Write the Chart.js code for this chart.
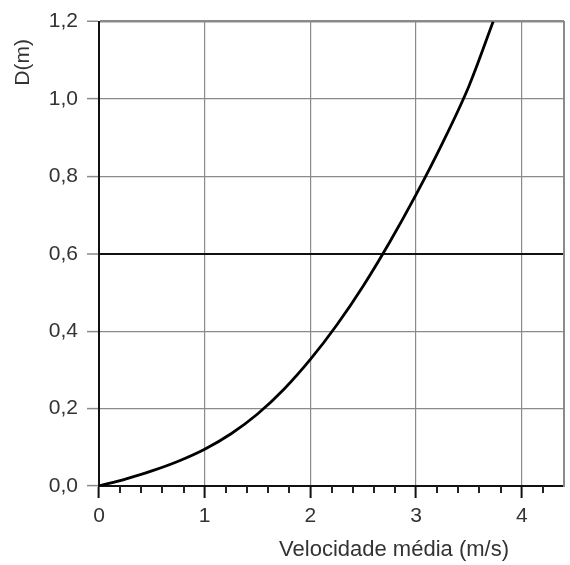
<!DOCTYPE html>
<html>
<head>
<meta charset="utf-8">
<script src="https://cdn.jsdelivr.net/npm/chart.js@4/dist/chart.umd.min.js"></script>
<style>
  html, body { margin: 0; padding: 0; background: #fff; }
  #wrap { width: 570px; height: 565px; }
</style>
</head>
<body>
<div id="wrap"><canvas id="c" width="570" height="565"></canvas></div>
<script>
// Data
const velocity = [0, 0.25, 0.5, 0.75, 1.0, 1.25, 1.5, 1.75, 2.0, 2.25, 2.5, 2.75, 3.0, 3.25, 3.5, 3.73];
const depth    = [0, 0.018, 0.039, 0.064, 0.095, 0.135, 0.186, 0.25, 0.327, 0.416, 0.517, 0.63, 0.753, 0.886, 1.033, 1.2];
const xTickValues = [0, 1, 2, 3, 4];
const xMinorTickValues = [0.2, 0.4, 0.6, 0.8, 1.2, 1.4, 1.6, 1.8, 2.2, 2.4, 2.6, 2.8, 3.2, 3.4, 3.6, 3.8, 4.2];
const yTickValues = [0, 0.2, 0.4, 0.6, 0.8, 1.0, 1.2];
const xTitle = 'Velocidade média (m/s)';
const yTitle = 'D(m)';

const FONT = 'Liberation Sans, Arial, sans-serif';
const NB = '\u00a0';

const minorTicksPlugin = {
  id: 'minorTicks',
  afterDraw(chart) {
    const x = chart.scales.x;
    const ctx = chart.ctx;
    const y0 = chart.chartArea.bottom;
    ctx.save();
    ctx.strokeStyle = '#222';
    ctx.lineWidth = 2;
    xMinorTickValues.forEach(v => {
      const px = Math.round(x.getPixelForValue(v));
      ctx.beginPath();
      ctx.moveTo(px, y0);
      ctx.lineTo(px, y0 + 7);
      ctx.stroke();
    });
    ctx.restore();
  }
};

new Chart(document.getElementById('c'), {
  type: 'scatter',
  data: {
    datasets: [{
      data: velocity.map((v, i) => ({ x: v, y: depth[i] })),
      showLine: true,
      borderColor: '#000',
      borderWidth: 2.8,
      pointRadius: 0,
      cubicInterpolationMode: 'monotone',
      fill: false
    }]
  },
  options: {
    responsive: false,
    animation: false,
    layout: { padding: { left: 0, right: 6, top: 21, bottom: 0 } },
    plugins: { legend: { display: false }, tooltip: { enabled: false } },
    scales: {
      x: {
        type: 'linear',
        min: 0,
        max: 4.4,
        afterBuildTicks: s => { s.ticks = xTickValues.map(v => ({ value: v })); },
        afterFit: s => { s.height = 79; },
        ticks: {
          callback: v => String(v),
          color: '#333',
          font: { family: FONT, size: 21 },
          padding: 6,
          maxRotation: 0
        },
        grid: {
          color: '#8a8a8a',
          tickColor: '#111',
          lineWidth: 1.2,
          tickLength: 12,
          tickWidth: 2
        },
        border: { color: '#111', width: 2 },
        title: {
          display: true,
          text: xTitle + NB.repeat(9),
          align: 'end',
          color: '#333',
          font: { family: FONT, size: 22 },
          padding: { top: 0, bottom: 2 }
        }
      },
      y: {
        type: 'linear',
        min: 0,
        max: 1.2,
        afterBuildTicks: s => { s.ticks = yTickValues.map(v => ({ value: v })); },
        afterFit: s => { s.width = 99; },
        ticks: {
          callback: v => v.toFixed(1).replace('.', ','),
          color: '#333',
          font: { family: FONT, size: 21 },
          padding: 9
        },
        grid: {
          color: ctx => (ctx.tick && Math.abs(ctx.tick.value - 0.6) < 1e-6) ? '#111' : '#8a8a8a',
          lineWidth: ctx => {
            if (!ctx.tick) return 1.2;
            const v = ctx.tick.value;
            if (Math.abs(v - 0.6) < 1e-6) return 2;
            if (Math.abs(v - 1.2) < 1e-6) return 2.5;
            return 1.2;
          },
          tickColor: '#8a8a8a',
          tickLength: 12,
          tickWidth: 1.5
        },
        border: { color: '#111', width: 2 },
        title: {
          display: true,
          text: yTitle + NB.repeat(3),
          align: 'end',
          color: '#333',
          font: { family: FONT, size: 21 },
          padding: { top: 11, bottom: 0 }
        }
      },
      y2: {
        type: 'linear',
        position: 'right',
        min: 0,
        max: 1.2,
        afterFit: s => { s.width = 0; },
        ticks: { display: false },
        grid: { display: false, drawTicks: false },
        border: { color: '#8a8a8a', width: 2 }
      }
    }
  },
  plugins: [minorTicksPlugin]
});
</script>
</body>
</html>
